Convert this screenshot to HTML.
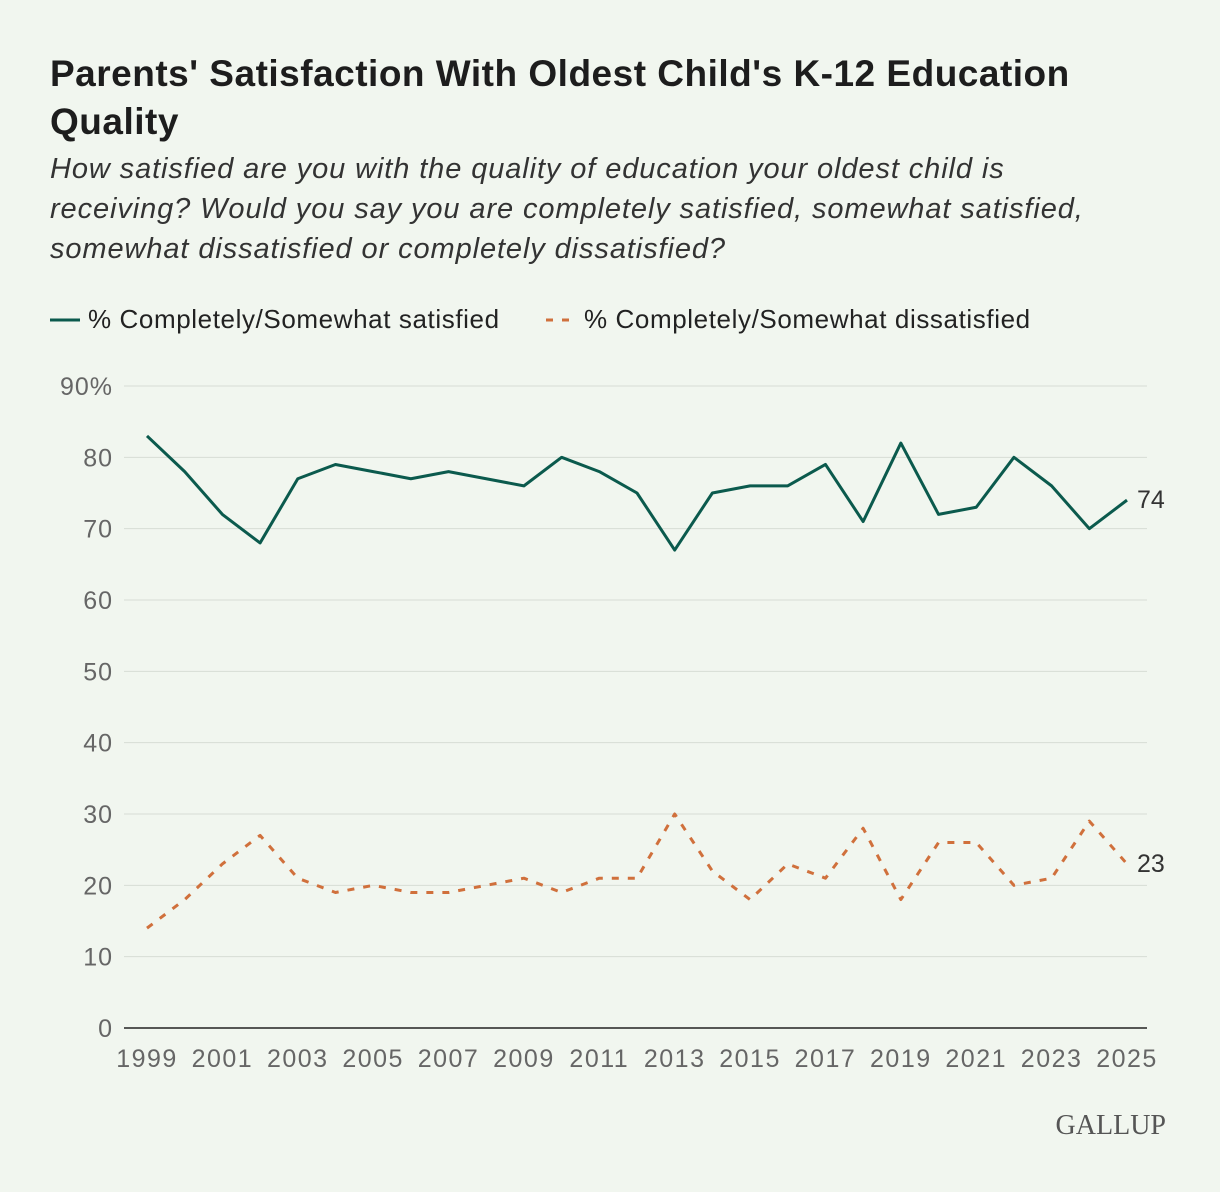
<!DOCTYPE html>
<html><head><meta charset="utf-8"><style>
body{margin:0;background:#f1f6ef;width:1220px;height:1192px;overflow:hidden;font-family:"Liberation Sans",sans-serif}
h1{position:absolute;left:50px;top:50px;margin:0;font-size:37px;line-height:48px;font-weight:bold;color:#1d1d1d;width:1110px;letter-spacing:0.5px}
.sub{position:absolute;left:50px;top:149px;font-size:29px;line-height:40px;font-style:italic;color:#333;width:1090px;letter-spacing:0.9px}
</style></head><body>
<h1>Parents' Satisfaction With Oldest Child's K-12 Education Quality</h1>
<div class="sub">How satisfied are you with the quality of education your oldest child is receiving? Would you say you are completely satisfied, somewhat satisfied, somewhat dissatisfied or completely dissatisfied?</div>
<svg id="c" width="1220" height="1192" style="position:absolute;left:0;top:0"></svg>
<script>
const years=[1999,2000,2001,2002,2003,2004,2005,2006,2007,2008,2009,2010,2011,2012,2013,2014,2015,2016,2017,2018,2019,2020,2021,2022,2023,2024,2025];
const satisfied=[83,78,72,68,77,79,78,77,78,77,76,80,78,75,67,75,76,76,79,71,82,72,73,80,76,70,74];
const dissatisfied=[14,18,23,27,21,19,20,19,19,20,21,19,21,21,30,22,18,23,21,28,18,26,26,20,21,29,23];
const yTicks=[0,10,20,30,40,50,60,70,80,90];
const yTickLabels=["0","10","20","30","40","50","60","70","80","90%"];
const xTickLabels=[1999,2001,2003,2005,2007,2009,2011,2013,2015,2017,2019,2021,2023,2025];
const svg=document.getElementById('c');const NS='http://www.w3.org/2000/svg';
const X=y=>147+(y-1999)*(1127-147)/26;
const Y=v=>1028-v*(1028-386)/90;
function mk(t,a){const e=document.createElementNS(NS,t);for(const k in a)e.setAttribute(k,a[k]);svg.appendChild(e);return e;}
yTicks.forEach((t,i)=>{
 const g=mk('line',{x1:124,x2:1147,y1:Y(t),y2:Y(t),stroke:t===0?'#222':'#d6dcd4','stroke-width':t===0?1.5:1});
 
 
 const l=mk('text',{x:113,y:Y(t)+9,'text-anchor':'end','font-size':25,fill:'#666','letter-spacing':1});l.textContent=yTickLabels[i];
 
 
});
xTickLabels.forEach(yr=>{
 const l=mk('text',{x:X(yr),y:1067,'text-anchor':'middle','font-size':25,fill:'#666','letter-spacing':1.5});l.textContent=yr;
 
 
});
function line(vals,color,dash,name){
 const p=mk('polyline',{points:vals.map((v,i)=>X(years[i])+','+Y(v)).join(' '),fill:'none',stroke:color,'stroke-width':3,'stroke-dasharray':dash,'stroke-linejoin':'round'});
 
 
}
line(satisfied,'#0b5a4d','none','satisfied-line');
line(dissatisfied,'#d0703c','7 9','dissatisfied-line');
const e1=mk('text',{x:1137,y:Y(satisfied[26])+8,'font-size':25,fill:'#333'});e1.textContent=satisfied[26];


const e2=mk('text',{x:1137,y:Y(dissatisfied[26])+8,'font-size':25,fill:'#333'});e2.textContent=dissatisfied[26];


const l1=mk('line',{x1:50,x2:80,y1:320,y2:320,stroke:'#0b5a4d','stroke-width':3});


const t1=mk('text',{x:88,y:328,'font-size':26,fill:'#222','letter-spacing':0.6});t1.textContent='% Completely/Somewhat satisfied';


const l2=mk('line',{x1:546,x2:576,y1:320,y2:320,stroke:'#d0703c','stroke-width':3,'stroke-dasharray':'7 9'});


const t2=mk('text',{x:584,y:328,'font-size':26,fill:'#222','letter-spacing':0.6});t2.textContent='% Completely/Somewhat dissatisfied';


const g=mk('text',{x:1166,y:1134,'text-anchor':'end','font-size':28,fill:'#555','font-family':'Liberation Serif, serif'});g.textContent='GALLUP';


</script>
</body></html>
